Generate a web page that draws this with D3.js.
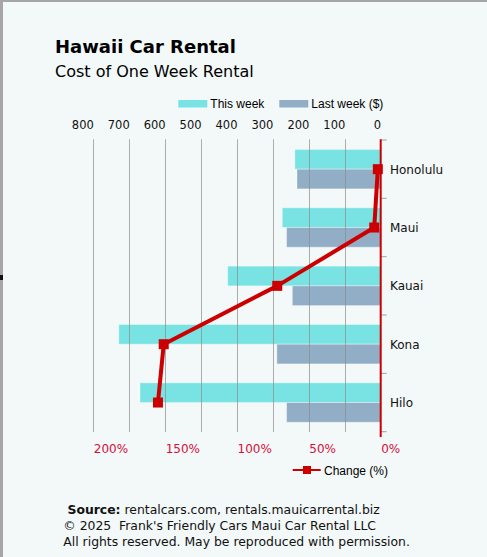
<!DOCTYPE html>
<html>
<head>
<meta charset="utf-8">
<script src="https://cdn.jsdelivr.net/npm/d3@7"></script>
<style>
  body { margin: 0; background: #f3f8f8; }
  svg { display: block; }
</style>
</head>
<body>
<svg id="chart"></svg>
<script>
// data
const cities = ["Honolulu", "Maui", "Kauai", "Kona", "Hilo"];
const thisWeek = [239, 274, 426, 729, 670];
const lastWeek = [233, 262, 246, 289, 262];
const change = [2, 4.5, 72, 151, 155];
const dollarTicks = [0, 100, 200, 300, 400, 500, 600, 700, 800];
const pctTicks = [0, 50, 100, 150, 200];
const series = ["This week", "Last week ($)"];

const width = 487, height = 557;
const colors = ["#79e3e3", "#92aec6"];
const red = "#cc0000";

const svg = d3.select("#chart")
  .attr("width", width)
  .attr("height", height);

svg.append("rect")
  .attr("width", width).attr("height", height)
  .attr("fill", "#f3f8f8");
// frame on the left and top edge
svg.append("rect").attr("x", 0).attr("y", 0).attr("width", 3).attr("height", height).attr("fill", "#a6a6a6");
svg.append("rect").attr("x", 0).attr("y", 0).attr("width", width).attr("height", 2).attr("fill", "#a6a6a6");
svg.append("rect").attr("x", 0).attr("y", 275).attr("width", 3).attr("height", 5).attr("fill", "#111");

var plot = {top: 140, bottom: 431.7, left: 93.3, right: 380.7};

var x = d3.scaleLinear().domain([0, 800]).range([plot.right, plot.left]);
var xp = d3.scaleLinear().domain([0, 200]).range([plot.right, plot.left]);
var y = d3.scaleBand().domain(cities).range([plot.top, plot.bottom]);
var ySub = d3.scaleBand().domain(series).range([0, y.bandwidth()]).paddingOuter(0.48);

const rows = cities.map((c, i) => ({city: c, vals: [thisWeek[i], lastWeek[i]], change: change[i]}));

// titles
svg.append("text").attr("x", 55).attr("y", 53)
  .attr("font-family", "DejaVu Sans").attr("font-weight", "bold").attr("font-size", 18)
  .text("Hawaii Car Rental");
svg.append("text").attr("x", 55).attr("y", 77)
  .attr("font-family", "DejaVu Sans").attr("font-size", 16)
  .text("Cost of One Week Rental");

// top legend
var leg = svg.append("g").attr("font-family", "Liberation Sans, Arial").attr("font-size", 12);
[178.3, 279.3].forEach((lx, i) => {
  leg.append("rect").attr("x", lx).attr("y", 100).attr("width", 29).attr("height", 7.5).attr("fill", colors[i]);
  leg.append("text").attr("x", lx + 32).attr("y", 108).text(series[i]);
});

// bars
svg.append("g")
  .selectAll("g")
  .data(rows)
  .join("g")
    .attr("transform", d => `translate(0,${y(d.city)})`)
  .selectAll("rect")
  .data(d => d.vals.map((v, k) => ({key: series[k], value: v, k: k})))
  .join("rect")
    .attr("x", d => x(d.value))
    .attr("y", d => ySub(d.key))
    .attr("width", d => x(0) - x(d.value))
    .attr("height", ySub.bandwidth())
    .attr("fill", d => colors[d.k])
    .attr("stroke", "#ffffff").attr("stroke-opacity", 0.35).attr("stroke-width", 1);

// gridlines (drawn on top, they show through the bars)
svg.append("g")
  .selectAll("line")
  .data(dollarTicks.filter(t => t > 0))
  .join("line")
    .attr("x1", d => Math.round(x(d)) + 0.5).attr("x2", d => Math.round(x(d)) + 0.5)
    .attr("y1", 139.3).attr("y2", 432)
    .attr("stroke", "#8c8c8c").attr("stroke-opacity", 0.7);

// top dollar axis
var topAxis = d3.axisTop(x).tickValues(dollarTicks).tickSize(0).tickPadding(0);
svg.append("g")
  .attr("transform", "translate(0,129)")
  .call(topAxis)
  .call(g => g.select(".domain").remove())
  .call(g => g.selectAll("text")
      .attr("text-anchor", "end").attr("dy", 0)
      .attr("font-family", "DejaVu Sans").attr("font-size", 11.5).attr("fill", "#111"));

// bottom percent axis
var botAxis = d3.axisBottom(xp).tickValues(pctTicks).tickSize(0).tickPadding(0).tickFormat(d => d + "%");
svg.append("g")
  .attr("transform", "translate(0,453)")
  .call(botAxis)
  .call(g => g.select(".domain").remove())
  .call(g => g.selectAll("text")
      .attr("text-anchor", "start").attr("dy", 0)
      .attr("font-family", "DejaVu Sans").attr("font-size", 12).attr("fill", "#d4103c"));

// right category axis: small grey ticks at band edges
var edges = cities.map(c => y(c)).concat([plot.bottom]);
svg.append("g")
  .selectAll("line")
  .data(edges)
  .join("line")
    .attr("x1", plot.right).attr("x2", plot.right + 6)
    .attr("y1", d => d).attr("y2", d => d)
    .attr("stroke", "#a0a0a0");
svg.append("line")
  .attr("x1", plot.right).attr("x2", plot.right)
  .attr("y1", 139.3).attr("y2", 437)
  .attr("stroke", red).attr("stroke-width", 2);
svg.append("g")
  .selectAll("text")
  .data(cities)
  .join("text")
    .attr("x", 390)
    .attr("y", d => y(d) + y.bandwidth() / 2 + 4.5)
    .attr("font-family", "DejaVu Sans").attr("font-size", 12).attr("fill", "#111")
    .text(d => d);

// change line
var line = d3.line()
  .x(d => xp(d.change))
  .y(d => y(d.city) + y.bandwidth() / 2);
svg.append("path")
  .datum(rows)
  .attr("d", line)
  .attr("fill", "none")
  .attr("stroke", red).attr("stroke-width", 4).attr("stroke-linejoin", "round");
svg.append("g")
  .selectAll("rect")
  .data(rows)
  .join("rect")
    .attr("x", d => xp(d.change) - 5)
    .attr("y", d => y(d.city) + y.bandwidth() / 2 - 5)
    .attr("width", 10).attr("height", 10)
    .attr("fill", red);

// change legend
svg.append("line").attr("x1", 292.7).attr("x2", 320.7).attr("y1", 470).attr("y2", 470)
  .attr("stroke", red).attr("stroke-width", 2);
svg.append("rect").attr("x", 303).attr("y", 466).attr("width", 8).attr("height", 8).attr("fill", red);
svg.append("text").attr("x", 324).attr("y", 474.5)
  .attr("font-family", "Liberation Sans, Arial").attr("font-size", 12)
  .text("Change (%)");

// footer
var foot = svg.append("g").attr("font-family", "DejaVu Sans").attr("font-size", 12.4).attr("fill", "#111");
var src = foot.append("text").attr("x", 67.5).attr("y", 513.5);
src.append("tspan").attr("font-weight", "bold").text("Source:");
src.append("tspan").text(" rentalcars.com, rentals.mauicarrental.biz");
foot.append("text").attr("x", 63.3).attr("y", 529.5).attr("xml:space", "preserve")
  .text("\u00a9 2025\u00a0 Frank's Friendly Cars Maui Car Rental LLC");
foot.append("text").attr("x", 63.3).attr("y", 545.5)
  .text("All rights reserved. May be reproduced with permission.");
</script>
</body>
</html>
